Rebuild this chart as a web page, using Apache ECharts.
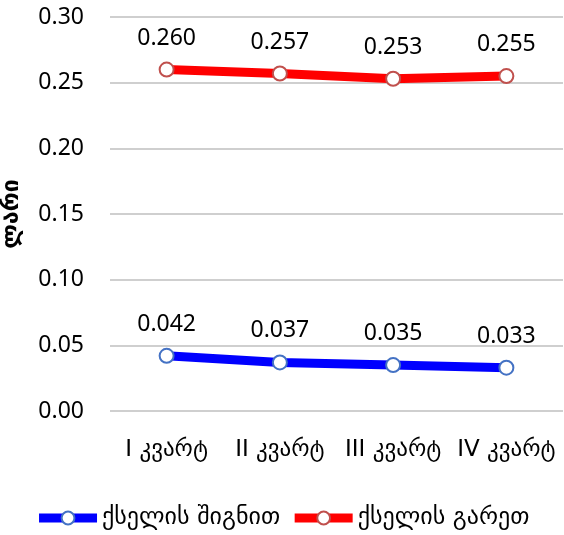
<!DOCTYPE html>
<html><head><meta charset="utf-8">
<script src="https://cdn.jsdelivr.net/npm/echarts@6/dist/echarts.min.js"></script>
<style>html,body{margin:0;padding:0;background:#fff}#c{width:564px;height:535px}</style>
</head><body><div id="c"></div>
<script>
const categories = ["I კვარტ", "II კვარტ", "III კვარტ", "IV კვარტ"];
const insideValues = [0.042, 0.037, 0.035, 0.033];
const outsideValues = [0.260, 0.257, 0.253, 0.255];
const seriesNames = ["ქსელის შიგნით", "ქსელის გარეთ"];
const yTicks = [0, 0.05, 0.10, 0.15, 0.20, 0.25, 0.30];
const yName = "ლარი";

const FONT = "'Noto Sans', sans-serif";
const GFONT = "'DejaVu Sans', sans-serif";
const chart = echarts.init(document.getElementById('c'));
function mkSeries(name, data, color, border) {
  return {
    name, type: 'line', data,
    lineStyle: { color, width: 9 },
    itemStyle: { color: '#fff', borderColor: border, borderWidth: 2 },
    symbol: 'circle', symbolSize: 14, showAllSymbol: true,
    label: { show: true, position: 'top', distance: 12, color: '#000', fontSize: 23, fontFamily: FONT,
      formatter: p => p.value.toFixed(3) },
    z: 3
  };
}
chart.setOption({
  animation: false,
  grid: { left: 110, right: 1, top: 17, bottom: 124, outerBoundsMode: 'none', containLabel: false },
  xAxis: {
    type: 'category', data: categories, boundaryGap: true,
    axisLine: { show: false }, axisTick: { show: false },
    axisLabel: { color: '#000', fontSize: 23, fontFamily: GFONT, margin: 28, interval: 0, hideOverlap: false }
  },
  yAxis: {
    type: 'value', min: 0, max: 0.30, interval: 0.05,
    name: yName, nameLocation: 'middle', nameRotate: 90, nameGap: 86,
    nameTextStyle: { color: '#000', fontSize: 23, fontWeight: 'bold', fontFamily: GFONT },
    axisLabel: { color: '#000', fontSize: 23, fontFamily: FONT, margin: 26,
      formatter: v => { const t = yTicks.find(x => Math.abs(x - v) < 1e-9); return (t !== undefined ? t : v).toFixed(2); } },
    splitLine: { lineStyle: { color: '#bfbfbf', width: 1.5 } },
    axisLine: { show: false }, axisTick: { show: false }
  },
  legend: {
    bottom: 0, left: 'center', itemWidth: 58, itemHeight: 16, itemGap: 10,
    textStyle: { color: '#000', fontSize: 24, fontFamily: GFONT },
    lineStyle: { width: 9 },
    data: seriesNames
  },
  series: [
    mkSeries(seriesNames[0], insideValues, '#0000ff', '#4472c4'),
    mkSeries(seriesNames[1], outsideValues, '#ff0000', '#c0504d')
  ]
});
</script></body></html>
